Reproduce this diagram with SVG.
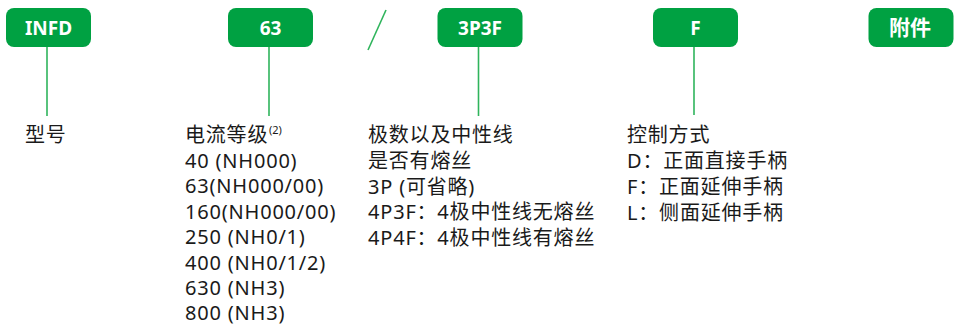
<svg xmlns="http://www.w3.org/2000/svg" width="955" height="325" viewBox="0 0 955 325">
<style>
.box{fill:#00a142;}
.bl{font-family:"Noto Sans","Noto Sans CJK SC",sans-serif;font-weight:bold;font-size:19px;fill:#fff;text-anchor:middle;}
.t{font-family:"Noto Sans","Noto Sans CJK SC",sans-serif;font-size:20px;letter-spacing:0.8px;fill:#1a1a1a;}
.sup{font-family:"Noto Sans",sans-serif;font-size:11px;fill:#1a1a1a;}
.ln{stroke:#2fb45c;stroke-width:1.6;fill:none;}
</style>
<rect width="955" height="325" fill="#fff"/>
<g id="connectors">
<line class="ln" x1="47" y1="47" x2="47" y2="116"/>
<line class="ln" x1="269" y1="47" x2="269" y2="116"/>
<line class="ln" x1="478.5" y1="47" x2="478.5" y2="116"/>
<line class="ln" x1="694" y1="47" x2="694" y2="115"/>
</g>
<g id="slash"><line class="ln" x1="386" y1="10" x2="368" y2="50"/></g>
<g id="n-infd">
<rect class="box" x="6" y="8" width="85" height="39" rx="8"/>
<text class="bl" x="48.5" y="34.5">INFD</text>
</g>
<g id="n-63">
<rect class="box" x="228" y="8" width="85" height="39" rx="8"/>
<text class="bl" x="270.5" y="34.5">63</text>
</g>
<g id="n-3p3f">
<rect class="box" x="437.5" y="8" width="85" height="39" rx="8"/>
<text class="bl" x="480" y="34.5">3P3F</text>
</g>
<g id="n-f">
<rect class="box" x="653" y="8" width="85" height="39" rx="8"/>
<text class="bl" x="695.5" y="34.5">F</text>
</g>
<g id="n-acc">
<rect class="box" x="868.5" y="8" width="85" height="39" rx="8"/>
<text class="bl" x="910" y="35" style="font-size:21px">附件</text>
</g>
<g id="d-infd"><text class="t" x="25" y="142">型号</text></g>
<g id="d-63">
<text class="t" x="185" y="142">电流等级</text>
<text class="sup" x="269" y="134">(2)</text>
<text class="t" x="185" y="167.5">40 (NH000)</text>
<text class="t" x="185" y="193">63(NH000/00)</text>
<text class="t" x="185" y="218.5">160(NH000/00)</text>
<text class="t" x="185" y="244">250 (NH0/1)</text>
<text class="t" x="185" y="269.5">400 (NH0/1/2)</text>
<text class="t" x="185" y="295">630 (NH3)</text>
<text class="t" x="185" y="320">800 (NH3)</text>
</g>
<g id="d-3p3f">
<text class="t" x="368" y="142">极数以及中性线</text>
<text class="t" x="368" y="168">是否有熔丝</text>
<text class="t" x="368" y="193.5">3P (可省略)</text>
<text class="t" x="368" y="219">4P3F：4极中性线无熔丝</text>
<text class="t" x="368" y="245">4P4F：4极中性线有熔丝</text>
</g>
<g id="d-f">
<text class="t" x="627" y="142">控制方式</text>
<text class="t" x="627" y="168">D：正面直接手柄</text>
<text class="t" x="627" y="194">F：正面延伸手柄</text>
<text class="t" x="627" y="219.5">L：侧面延伸手柄</text>
</g>
</svg>
